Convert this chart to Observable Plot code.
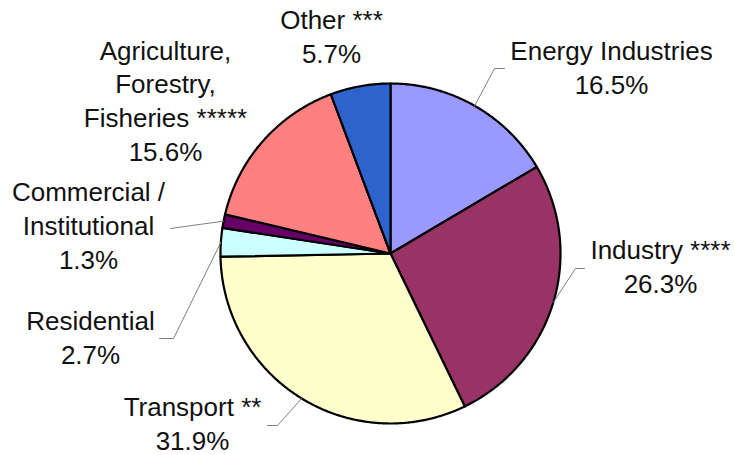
<!DOCTYPE html>
<html><head><meta charset="utf-8">
<script src="https://cdn.jsdelivr.net/npm/d3@7"></script>
<script src="https://cdn.jsdelivr.net/npm/@observablehq/plot@0.6"></script>
<style>body{margin:0;background:#fff}</style>
</head><body><div id="chart"></div>
<script>
// ---- data ----
const sectors = ["Energy Industries","Industry ****","Transport **","Residential","Commercial / Institutional","Agriculture, Forestry, Fisheries *****","Other ***"];
const shares = [16.5, 26.3, 31.9, 2.7, 1.3, 15.6, 5.7];
const labelLines = [["Energy Industries"],["Industry ****"],["Transport **"],["Residential"],["Commercial /","Institutional"],["Agriculture,","Forestry,","Fisheries *****"],["Other ***"]];

// ---- style / layout ----
const colors = ["#9999FF","#993366","#FFFFCC","#CCFFFF","#660066","#FF8080","#2E62CC"];
const W = 734, H = 455, CX = 390, CY = 253, R = 170;
const labelPos = [[611,93],[660,292],[192,449],[90,363],[88,268],[165,160],[331,62]]; // centre x, last baseline
const leaderBends = [[[494,68],[504,68]], [[575,268],[584,268]], [[277,425],[267,425]], [[173,338],[159,338]], [[170,228]], null, null];

const total = d3.sum(shares);
const slicePts = [], leaderPts = [], labels = [];
let cum = 0;
sectors.forEach((s, i) => {
  const a0 = cum / total * 2 * Math.PI; cum += shares[i]; const a1 = cum / total * 2 * Math.PI;
  slicePts.push({s, x: CX, y: CY});
  const n = Math.max(2, Math.ceil((a1 - a0) / (Math.PI / 360)));
  for (let k = 0; k <= n; k++) {
    const a = a0 + (a1 - a0) * k / n;
    slicePts.push({s, x: CX + R * Math.sin(a), y: CY - R * Math.cos(a)});
  }
  slicePts.push({s, x: CX, y: CY});
  if (leaderBends[i]) {
    const am = (a0 + a1) / 2;
    leaderPts.push({s, x: CX + R * Math.sin(am), y: CY - R * Math.cos(am)});
    leaderBends[i].forEach(([x, y]) => leaderPts.push({s, x, y}));
  }
  labels.push({s, x: labelPos[i][0], y: labelPos[i][1], text: [...labelLines[i], shares[i].toFixed(1) + "%"].join("\n")});
});

const chart = Plot.plot({
  width: W, height: H, margin: 0,
  x: {domain: [0, W], range: [0, W], axis: null},
  y: {domain: [0, H], range: [0, H], axis: null},
  color: {domain: sectors, range: colors},
  style: {fontFamily: "'Liberation Sans', Arial, sans-serif", background: "#fff"},
  marks: [
    Plot.line(slicePts, {x: "x", y: "y", z: "s", fill: "s", stroke: "black", strokeWidth: 2.2, strokeLinejoin: "round"}),
    Plot.line(leaderPts, {x: "x", y: "y", z: "s", stroke: "#7f7f7f", strokeWidth: 1}),
    Plot.text(labels, {x: "x", y: "y", text: "text", lineAnchor: "bottom", fontSize: 26, lineHeight: 1.29, fill: "#111"})
  ]
});
document.getElementById("chart").appendChild(chart);
</script>
</body></html>
